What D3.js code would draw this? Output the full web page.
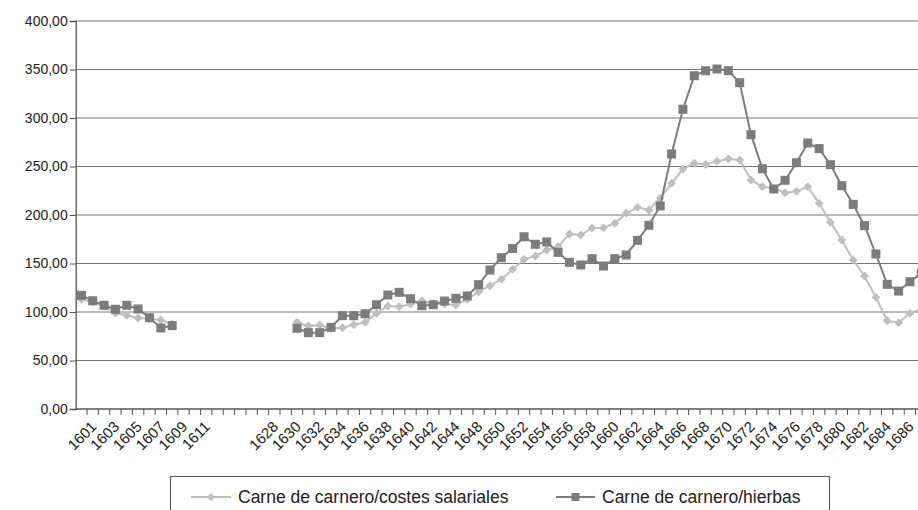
<!DOCTYPE html>
<html>
<head>
<meta charset="utf-8">
<script src="https://cdn.jsdelivr.net/npm/d3@7"></script>
<style>
  html, body { margin: 0; padding: 0; background: #fff; }
  svg { display: block; font-family: "Liberation Sans", Arial, sans-serif; }
</style>
</head>
<body>
<svg id="chart" width="918" height="510"></svg>
<script>
// Category axis: years (a few unlabeled filler years in the gaps)
const years = [
  "1601","1602","1603","1604","1605","1606","1607","1608","1609","1610","1611",
  "1612","1613","1625","1626","1627",
  "1628","1629","1630","1631","1632","1633","1634","1635","1636","1637","1638",
  "1639","1640","1641","1642","1643","1644","1646",
  "1648","1649","1650","1651","1652","1653","1654","1655","1656","1657","1658",
  "1659","1660","1661","1662","1663","1664","1665","1666","1667","1668","1669",
  "1670","1671","1672","1673","1674","1675","1676","1677","1678","1679","1680",
  "1681","1682","1683","1684","1685","1686","1687","1688"
];

// Every other category carries a label
const xTickLabels = [
  "1601","1603","1605","1607","1609","1611",
  "1628","1630","1632","1634","1636","1638","1640","1642","1644",
  "1648","1650","1652","1654","1656","1658","1660","1662","1664","1666",
  "1668","1670","1672","1674","1676","1678","1680","1682","1684","1686"
];

const yTicks = [0, 50, 100, 150, 200, 250, 300, 350, 400];

// Carne de carnero / costes salariales
const costesSalariales = [
  113, 110, 107, 99, 96.6, 93.8, 93, 91.7, 88, null, null,
  null, null, null, null, null,
  null, null, null, 89.4, 85.6, 86.6, 83, 83.8, 86.9, 89.4, 98.6,
  106.2, 105.5, 108.2, 111.6, 108.2, 108.2, 107.2,
  113.1, 120.9, 127.1, 133.7, 144, 154.3, 157.7, 163.9, 167.3, 180.4, 179.4,
  186.6, 186.8, 191.4, 201.8, 207.9, 205.2, 217.2, 232.7, 247.4, 253.3, 252,
  255.3, 258, 256.7, 236.1, 229.2, 227.5, 223, 224.4, 229.2, 212, 192.4,
  174.2, 153.6, 137.1, 115.1, 91, 89, 98.7, 102.8
];

// Carne de carnero / hierbas
const hierbas = [
  117.2, 111.6, 106.9, 102.8, 106.9, 103.1, 94.1, 83.5, 85.9, null, null,
  null, null, null, null, null,
  null, null, null, 83.2, 78.7, 78.7, 84.2, 96.2, 96.2, 98.2, 107.5,
  117.5, 120.3, 113.7, 106.5, 107.5, 111.3, 114.1,
  116.5, 128.1, 143.3, 156, 165.5, 177.6, 169.8, 172.2, 161.5, 151.2, 148.5,
  155, 147.4, 155, 158.8, 173.9, 189.4, 209.3, 262.9, 309, 343.6, 348.7,
  350.5, 348.8, 336.4, 282.8, 247.7, 226.8, 235.8, 253.9, 274.2, 268.4, 251.9,
  230.2, 211, 189, 159.8, 128.5, 121.6, 131.2, 139.9
];

const seriesNames = ["Carne de carnero/costes salariales", "Carne de carnero/hierbas"];
const lightGrey = "#bdbfc0";
const darkGrey = "#7b7c7e";

const svg = d3.select("#chart");
const plotLeft = 75.7, step = 11.35;
const x = d3.scaleBand().domain(years).range([plotLeft, plotLeft + years.length * step]).padding(0);
const y = d3.scaleLinear().domain([0, 400]).range([409, 21]);
const cx = d => x(d) + x.bandwidth() / 2;

// Horizontal gridlines
svg.append("g").selectAll("line").data(yTicks.filter(t => t > 0)).join("line")
  .attr("x1", plotLeft).attr("x2", 918)
  .attr("y1", d => y(d)).attr("y2", d => y(d))
  .attr("stroke", "#767676").attr("stroke-width", 1);

// Y axis
const yAxis = svg.append("g").attr("transform", `translate(${plotLeft},0)`)
  .call(d3.axisLeft(y).tickValues(yTicks).tickSize(6).tickPadding(2)
    .tickFormat(d => d.toFixed(2).replace(".", ",")));
yAxis.select(".domain").attr("stroke", "#555").attr("stroke-width", 1.3);
yAxis.selectAll(".tick line").attr("stroke", "#555");
yAxis.selectAll("text").attr("font-size", 14).attr("fill", "#222")
  .attr("font-family", "Liberation Sans, Arial, sans-serif");

// X axis line and boundary tick marks
svg.append("line").attr("x1", plotLeft).attr("x2", 918).attr("y1", y(0)).attr("y2", y(0))
  .attr("stroke", "#555").attr("stroke-width", 1.3);
svg.append("g").selectAll("line").data(years).join("line")
  .attr("x1", d => x(d) + x.bandwidth()).attr("x2", d => x(d) + x.bandwidth())
  .attr("y1", y(0)).attr("y2", y(0) + 6)
  .attr("stroke", "#555").attr("stroke-width", 1);

// X labels (rotated)
const xAxis = svg.append("g").attr("transform", `translate(0,${y(0)})`)
  .call(d3.axisBottom(x).tickValues(xTickLabels).tickSize(0));
xAxis.select(".domain").remove();
xAxis.selectAll("text")
  .attr("font-size", 15).attr("fill", "#222")
  .attr("font-family", "Liberation Sans, Arial, sans-serif")
  .attr("text-anchor", "end")
  .attr("dy", "0.72em").attr("y", 0)
  .attr("transform", "translate(8.5,11) rotate(-45)");

// Series lines and markers
function drawSeries(values, color, marker) {
  const pts = years.map((yr, i) => ({ yr, v: values[i] }));
  const line = d3.line().defined(d => d.v != null).x(d => cx(d.yr)).y(d => y(d.v));
  svg.append("path").datum(pts).attr("d", line)
    .attr("fill", "none").attr("stroke", color).attr("stroke-width", 2);
  const sym = d3.symbol().type(marker === "square" ? d3.symbolSquare : d3.symbolDiamond2)
    .size(marker === "square" ? 81 : 50);
  svg.append("g").selectAll("path").data(pts.filter(d => d.v != null)).join("path")
    .attr("transform", d => `translate(${cx(d.yr)},${y(d.v)})`)
    .attr("d", sym).attr("fill", color);
}
drawSeries(costesSalariales, lightGrey, "diamond");
drawSeries(hierbas, darkGrey, "square");

// Legend
const lg = svg.append("g");
lg.append("rect").attr("x", 170.5).attr("y", 476.5).attr("width", 659).attr("height", 50)
  .attr("fill", "#fff").attr("stroke", "#555").attr("stroke-width", 1);
const legendItems = [
  { name: seriesNames[0], color: lightGrey, marker: "diamond", x0: 191, x1: 231, tx: 238 },
  { name: seriesNames[1], color: darkGrey, marker: "square", x0: 556, x1: 595, tx: 602 }
];
legendItems.forEach(it => {
  const ly = 497;
  lg.append("line").attr("x1", it.x0).attr("x2", it.x1).attr("y1", ly).attr("y2", ly)
    .attr("stroke", it.color).attr("stroke-width", 2);
  const sym = d3.symbol().type(it.marker === "square" ? d3.symbolSquare : d3.symbolDiamond2)
    .size(it.marker === "square" ? 64 : 40);
  lg.append("path").attr("transform", `translate(${(it.x0 + it.x1) / 2},${ly})`)
    .attr("d", sym).attr("fill", it.color);
  lg.append("text").attr("x", it.tx).attr("y", ly).attr("dy", "0.35em")
    .attr("font-size", 17.5).attr("fill", "#222").text(it.name);
});
</script>
</body>
</html>
